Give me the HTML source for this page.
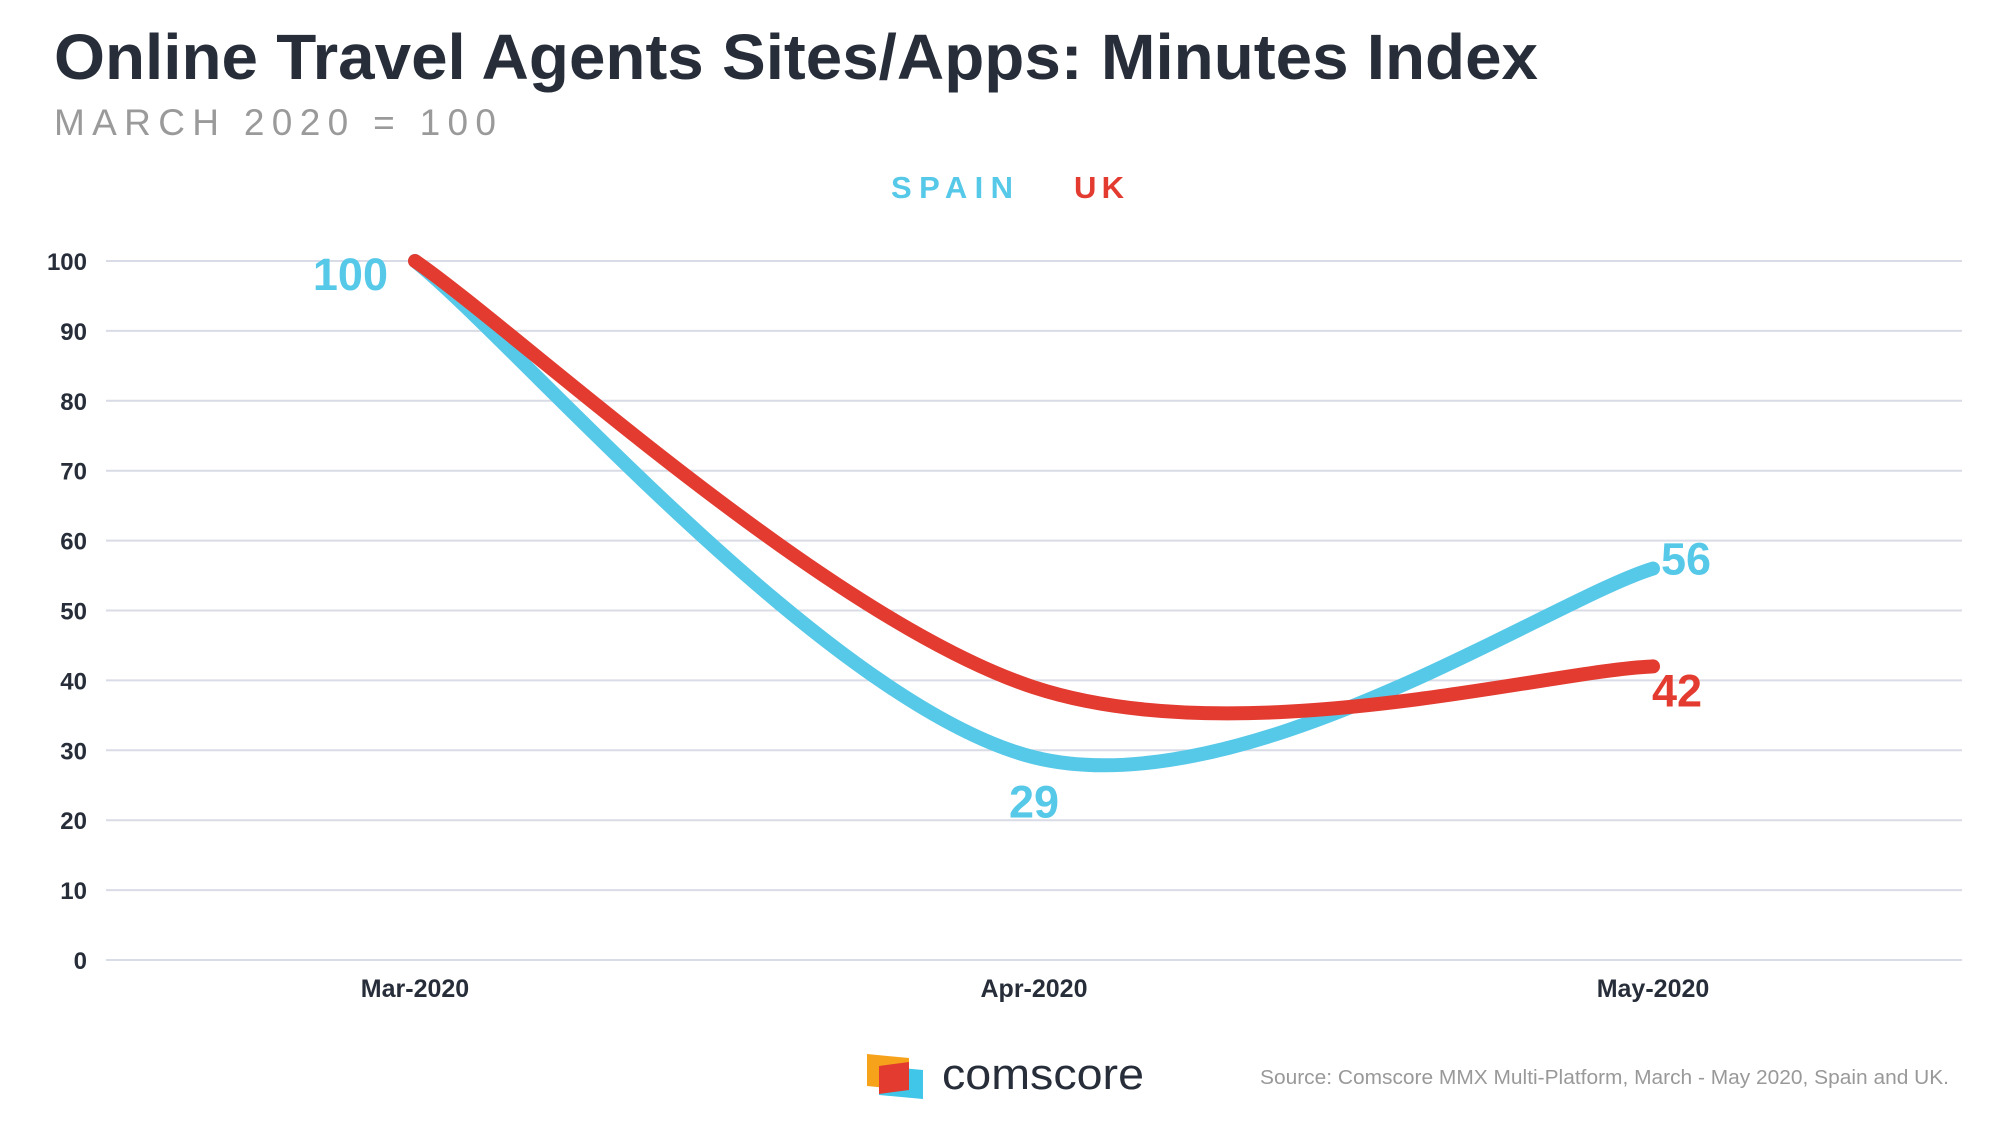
<!DOCTYPE html>
<html><head><meta charset="utf-8"><style>
html,body{margin:0;padding:0;background:#fff;}
svg{display:block;font-family:"Liberation Sans",sans-serif;}
</style></head><body>
<svg id="chart" width="2000" height="1125" viewBox="0 0 2000 1125">
<text x="54" y="79" font-size="64" font-weight="bold" fill="#272e3a" textLength="1484" lengthAdjust="spacingAndGlyphs">Online Travel Agents Sites/Apps: Minutes Index</text>
<text x="54" y="135" font-size="37" fill="#9a9a9a" textLength="442" lengthAdjust="spacing">MARCH 2020 = 100</text>
<g>
<text x="891" y="198" font-size="31" font-weight="bold" fill="#56c8e8" textLength="122" lengthAdjust="spacing">SPAIN</text>
<text x="1074" y="198" font-size="31" font-weight="bold" fill="#e33b30" textLength="50" lengthAdjust="spacing">UK</text>
</g>
<g id="grid"></g>
<g id="yaxis"></g>
<g id="xaxis"></g>
<g id="series"></g>
<g>
<polygon points="867,1054 909,1058 909,1090 867,1086" fill="#f7a21b"/>
<polygon points="879,1066 923,1070 923,1099 879,1095" fill="#3fc6e8"/>
<polygon points="879,1066 909,1062 909,1090 879,1094" fill="#e33b30"/>
<text x="942" y="1089" font-size="44" fill="#272e3a" textLength="202" lengthAdjust="spacingAndGlyphs">comscore</text>
</g>
<text x="1949" y="1084" font-size="20" fill="#999" text-anchor="end" textLength="689" lengthAdjust="spacingAndGlyphs">Source: Comscore MMX Multi-Platform, March - May 2020, Spain and UK.</text>
</svg>
<script>
const categories = ["Mar-2020", "Apr-2020", "May-2020"];
const spainValues = [100, 29, 56];
const ukValues = [100, 39, 42];
const yTicks = [0, 10, 20, 30, 40, 50, 60, 70, 80, 90, 100];
const NS = "http://www.w3.org/2000/svg";
const xPos = i => 415 + i * 619;
const yPos = v => 960 - v * 6.99;
function mk(tag, attrs, parent) {
  const e = document.createElementNS(NS, tag);
  for (const k in attrs) e.setAttribute(k, attrs[k]);
  parent.appendChild(e);
  return e;
}
const grid = document.getElementById('grid');
const yaxis = document.getElementById('yaxis');
const xaxis = document.getElementById('xaxis');
const series = document.getElementById('series');
yTicks.forEach(t => {
  const l = mk('line', {x1: 106, x2: 1962, y1: yPos(t), y2: yPos(t), stroke: '#d9dce6', 'stroke-width': 2}, grid);
  
  
  const tx = mk('text', {x: 87, y: yPos(t) + 9, 'font-size': 24, 'font-weight': 'bold', fill: '#272e3a', 'text-anchor': 'end'}, yaxis);
  tx.textContent = t;
  
  
});
categories.forEach((c, i) => {
  const tx = mk('text', {x: xPos(i), y: 997, 'font-size': 25, 'font-weight': 'bold', fill: '#272e3a', 'text-anchor': 'middle'}, xaxis);
  tx.textContent = c;
  
  
});
function spline(vals) {
  const p = vals.map((v, i) => [xPos(i), yPos(v)]);
  let d = 'M' + p[0][0] + ',' + p[0][1];
  for (let i = 0; i < p.length - 1; i++) {
    const p0 = p[Math.max(0, i - 1)], p1 = p[i], p2 = p[i + 1], p3 = p[Math.min(p.length - 1, i + 2)];
    const c1 = [p1[0] + (p2[0] - p0[0]) / 6, p1[1] + (p2[1] - p0[1]) / 6];
    const c2 = [p2[0] - (p3[0] - p1[0]) / 6, p2[1] - (p3[1] - p1[1]) / 6];
    d += ' C' + c1 + ' ' + c2 + ' ' + p2;
  }
  return d;
}
const sp = mk('path', {d: spline(spainValues), fill: 'none', stroke: '#56c8e8', 'stroke-width': 14, 'stroke-linecap': 'round'}, series);


const uk = mk('path', {d: spline(ukValues), fill: 'none', stroke: '#e33b30', 'stroke-width': 14, 'stroke-linecap': 'round'}, series);


function label(txt, x, y, color, anchor) {
  const t = mk('text', {x: x, y: y, 'font-size': 45, 'font-weight': 'bold', fill: color, 'text-anchor': anchor}, series);
  t.textContent = txt;
  
  
}
label(spainValues[0], xPos(0) - 27, yPos(spainValues[0]) + 29, '#56c8e8', 'end');
label(spainValues[1], xPos(1), yPos(spainValues[1]) + 60, '#56c8e8', 'middle');
label(spainValues[2], xPos(2) + 8, yPos(spainValues[2]) + 6, '#56c8e8', 'start');
label(ukValues[2], xPos(2) + 24, yPos(ukValues[2]) + 40, '#e33b30', 'middle');
</script>
</body></html>
